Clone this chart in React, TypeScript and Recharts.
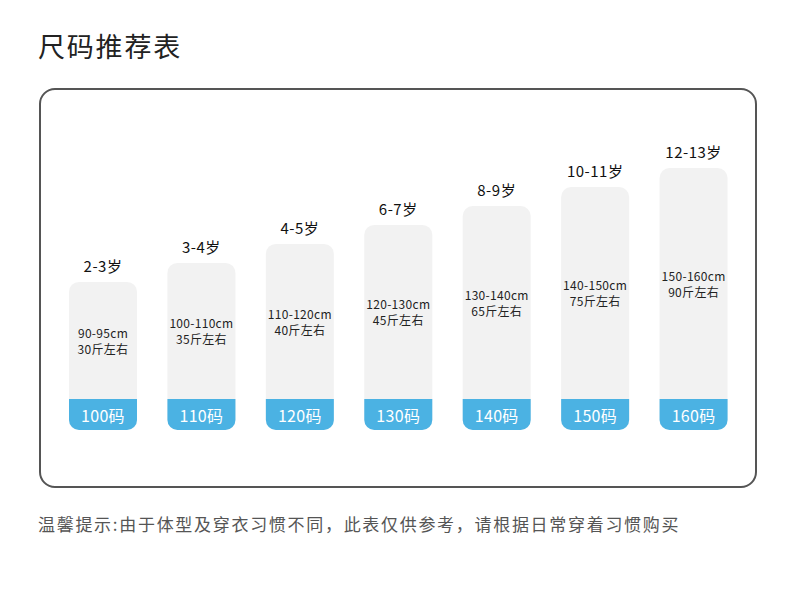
import React from "react";
import { BarChart, Bar, XAxis, YAxis } from "recharts";

/* ── data ── */
const sizes = ["100码", "110码", "120码", "130码", "140码", "150码", "160码"];
const sizeValues = [100, 110, 120, 130, 140, 150, 160];
const ages = ["2-3岁", "3-4岁", "4-5岁", "6-7岁", "8-9岁", "10-11岁", "12-13岁"];
const heightRanges = ["90-95cm", "100-110cm", "110-120cm", "120-130cm", "130-140cm", "140-150cm", "150-160cm"];
const weights = ["30斤左右", "35斤左右", "40斤左右", "45斤左右", "65斤左右", "75斤左右", "90斤左右"];

const data = sizes.map((s, i) => ({
  size: s,
  value: sizeValues[i],
  age: ages[i],
  range: heightRanges[i],
  weight: weights[i],
}));

const FONT = '"Noto Sans CJK SC", "Noto Sans", sans-serif';
const BLUE = "#4bb2e3";
const GREY = "#f2f2f2";
const BAND = 31;
const R = 10;

/* ── custom bar: grey card + blue size band + labels ── */
function SizeCard(props: any) {
  const { x, y, width, height, payload } = props;
  const b = y + height;
  const cx = x + width / 2;
  const bandTop = b - BAND;
  const mid = (y + bandTop) / 2;
  const bandPath =
    `M${x},${bandTop} H${x + width} V${b - R} ` +
    `A${R},${R} 0 0 1 ${x + width - R},${b} H${x + R} ` +
    `A${R},${R} 0 0 1 ${x},${b - R} Z`;
  return (
    <g>
      <rect x={x} y={y} width={width} height={height} rx={R} ry={R} fill={GREY} />
      <path d={bandPath} fill={BLUE} />
      <text x={cx} y={b - BAND / 2} textAnchor="middle" dominantBaseline="central"
        fill="#fff" fontSize={16} letterSpacing={0.3} fontFamily={FONT}>{payload.size}</text>
      <text x={cx} y={mid - 8} textAnchor="middle" dominantBaseline="central"
        fill="#222" fontSize={12} letterSpacing={0.3} fontFamily={FONT}>{payload.range}</text>
      <text x={cx} y={mid + 8} textAnchor="middle" dominantBaseline="central"
        fill="#222" fontSize={12} letterSpacing={0.3} fontFamily={FONT}>{payload.weight}</text>
      <text x={cx} y={y - 16} textAnchor="middle" dominantBaseline="central"
        fill="#111" fontSize={15} letterSpacing={0.5} fontFamily={FONT}>{payload.age}</text>
    </g>
  );
}

export default function App() {
  return (
    <div style={{ position: "relative", width: 790, height: 610, margin: -8, background: "#fff", fontFamily: FONT }}>
      <div style={{ position: "absolute", left: 38, top: 28, fontSize: 27, letterSpacing: 1.8, color: "#222", lineHeight: "36px" }}>
        尺码推荐表
      </div>
      <div style={{
        position: "absolute", left: 39, top: 88, width: 718, height: 400, boxSizing: "border-box",
        border: "2px solid #555", borderRadius: 16,
      }} />
      <div style={{ position: "absolute", left: 0, top: 0 }}>
        <BarChart width={790} height={610} data={data}
          margin={{ top: 149, right: 47, bottom: 180, left: 54 }} barCategoryGap={0}>
          <XAxis dataKey="size" hide />
          <YAxis hide domain={[22, 170]} />
          <Bar dataKey="value" barSize={68} shape={<SizeCard />} isAnimationActive={false} />
        </BarChart>
      </div>
      <div style={{ position: "absolute", left: 38, top: 512, fontSize: 17, letterSpacing: 1.7, color: "#555", lineHeight: "24px", whiteSpace: "nowrap" }}>
        温馨提示:由于体型及穿衣习惯不同，此表仅供参考，请根据日常穿着习惯购买
      </div>
    </div>
  );
}
